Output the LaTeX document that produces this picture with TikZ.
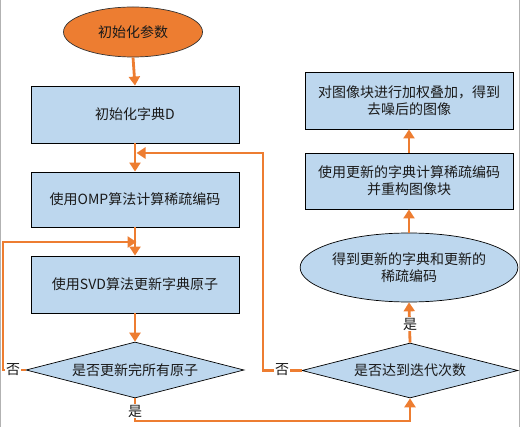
\documentclass[tikz,border=0pt]{standalone}
\usepackage{fontspec}
\setmainfont{Noto Sans CJK SC}
\usetikzlibrary{shapes.geometric,arrows.meta}
\definecolor{orangeF}{HTML}{ED7D31}
\definecolor{blueF}{HTML}{BDD7EE}
\definecolor{txt}{HTML}{1A1A1A}
\begin{document}
\begin{tikzpicture}[x=1pt,y=-1pt,
  every node/.style={font=\fontsize{14}{17}\selectfont, text=txt},
  procbox/.style={draw=black, line width=0.9pt, fill=blueF, rectangle, minimum width=208pt, inner sep=0pt, align=center},
  startell/.style={draw=black!80, line width=0.7pt, fill=orangeF, ellipse, minimum width=139pt, minimum height=50pt, inner sep=0pt},
  blueell/.style={draw=black, line width=0.7pt, fill=blueF, ellipse, minimum width=208pt, minimum height=69pt, inner sep=0pt, align=center},
  decis/.style={draw=black, line width=0.7pt, fill=blueF, diamond, aspect=3.9, minimum width=218pt, minimum height=56pt, inner sep=0pt},
  flow/.style={draw=orangeF, line width=2.8pt, -{Triangle[length=9pt,width=11pt]}},
  lab/.style={fill=white, inner sep=1pt}
]
\useasboundingbox (0,0) rectangle (521,427);
\draw[black!30, line width=1pt] (0.8,0) -- (0.8,427);
\draw[black!30, line width=1pt] (519.5,0) -- (519.5,427);

\node[startell] (e1) at (133,32) {初始化参数};
\node[procbox, minimum height=57pt] (b1) at (135,114.5) {初始化字典D};
\node[procbox, minimum height=55pt] (b2) at (135,199.5) {使用OMP算法计算稀疏编码};
\node[procbox, minimum height=57pt] (b3) at (135,284.5) {使用SVD算法更新字典原子};
\node[decis] (d1) at (135,370) {是否更新完所有原子};

\node[decis, minimum width=216pt, minimum height=55pt] (d2) at (410,370.5) {是否达到迭代次数};
\node[blueell] (e2) at (409,267.5) {得到更新的字典和更新的\\稀疏编码};
\node[procbox, minimum height=56pt] (b5) at (409,181) {使用更新的字典计算稀疏编码\\并重构图像块};
\node[procbox, minimum height=57pt] (b6) at (409,100.5) {对图像块进行加权叠加，得到\\去噪后的图像};

\coordinate (j0) at (136.5,153);
\coordinate (j1) at (136.5,242);
\coordinate (l1) at (3,242);
\coordinate (r1) at (263,153);
\coordinate (bt) at (135,421);

\draw[flow] (e1.south) -- (b1.north);
\draw[flow] (b1.south) -- (b2.north);
\draw[flow] (b2.south) -- (b3.north);
\draw[flow] (b3.south) -- (d1.north);

\draw[flow] (d1.west) -| (l1) -- (j1);
\node[lab] (n1) at (13,370) {否};

\draw[flow] (d1.south) -- (bt) -| (d2.south);
\node[lab] (y1) at (135,411) {是};

\draw[flow] (d2.west) -| (r1) -- (j0);
\node[lab] (n2) at (282,370) {否};

\draw[flow] (d2.north) -- (e2.south);
\node[lab] (y2) at (410,324) {是};

\draw[flow] (e2.north) -- (b5.south);
\draw[flow] (b5.north) -- (b6.south);
\end{tikzpicture}
\end{document}
